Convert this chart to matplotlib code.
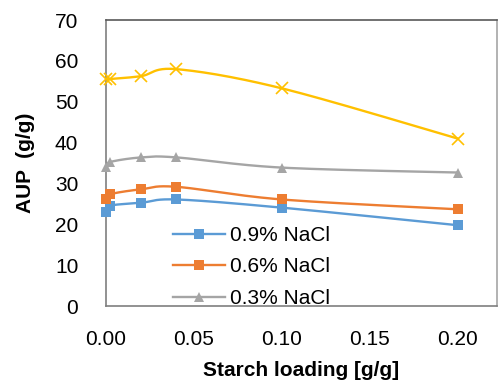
import numpy as np
import matplotlib
matplotlib.use('Agg')
import matplotlib.pyplot as plt

plt.rcParams['font.family'] = ['Liberation Sans', 'DejaVu Sans']

# Starch loading (g/g)
loading = [0.0, 0.0025, 0.02, 0.04, 0.10, 0.20]

aup_09 = [23.1, 24.6, 25.3, 26.1, 24.1, 19.8]
aup_06 = [26.1, 27.4, 28.6, 29.2, 26.1, 23.7]
aup_03 = [34.1, 35.3, 36.4, 36.4, 33.9, 32.7]
aup_water = [55.5, 55.6, 56.3, 58.0, 53.3, 41.0]

SERIES = [
    (aup_09, '0.9% NaCl', '#5B9BD5', 's'),
    (aup_06, '0.6% NaCl', '#ED7D31', 's'),
    (aup_03, '0.3% NaCl', '#A5A5A5', '^'),
    (aup_water, '_nolegend_', '#FFC000', 'x'),
]


def smooth(x, y, n=40):
    """Excel-like smoothed line (Catmull-Rom through the points)."""
    x = np.asarray(x, float)
    y = np.asarray(y, float)
    px = np.concatenate([[x[0]], x, [x[-1]]])
    py = np.concatenate([[y[0]], y, [y[-1]]])
    xs, ys = [], []
    for i in range(1, len(px) - 2):
        p0, p1, p2, p3 = [np.array([px[k], py[k]]) for k in range(i - 1, i + 3)]
        c1 = p1 + (p2 - p0) / 6
        c2 = p2 - (p3 - p1) / 6
        t = np.linspace(0, 1, n)[:, None]
        b = ((1 - t) ** 3) * p1 + 3 * ((1 - t) ** 2) * t * c1 \
            + 3 * (1 - t) * t ** 2 * c2 + t ** 3 * p2
        xs.append(b[:, 0])
        ys.append(b[:, 1])
    return np.concatenate(xs), np.concatenate(ys)


fig = plt.figure(figsize=(4.98, 3.87), dpi=100)
ax = fig.add_axes([0.213, 0.209, 0.784, 0.739])

handles = []
for vals, label, color, marker in SERIES:
    sx, sy = smooth(loading, vals)
    ax.plot(sx, sy, color=color, lw=1.7, zorder=2)
    mew = 1.2 if marker == 'x' else 0
    ms = 8 if marker == 'x' else 7.2
    ax.plot(loading, vals, linestyle='none', marker=marker, color=color,
            ms=ms, mew=mew, zorder=3, clip_on=False)
    h, = ax.plot([], [], color=color, lw=1.7, marker=marker, ms=7.2, mew=0,
                 label=label)
    handles.append(h)

ax.set_xlim(0, 0.222)
ax.set_ylim(0, 70)
ax.set_xticks([0.0, 0.05, 0.10, 0.15, 0.20])
ax.set_xticklabels(['0.00', '0.05', '0.10', '0.15', '0.20'])
ax.set_yticks(range(0, 71, 10))
ax.tick_params(length=0, labelsize=15)
ax.tick_params(axis='y', pad=20)
ax.tick_params(axis='x', pad=17)

ax.spines['left'].set_color('#7f7f7f')
ax.spines['bottom'].set_color('#7f7f7f')
ax.spines['top'].set_color('#595959')
ax.spines['right'].set_color('#a6a6a6')
for s in ax.spines.values():
    s.set_linewidth(1.2)

ax.set_xlabel('Starch loading [g/g]', fontsize=15, fontweight='bold', labelpad=9)
ax.set_ylabel('AUP  (g/g)', fontsize=15, fontweight='bold', labelpad=14)

ax.legend(handles=handles[:3], loc='upper left',
          bbox_to_anchor=(0.15, 0.31), frameon=False, fontsize=15,
          handlelength=2.5, labelspacing=0.6, handletextpad=0.25,
          borderaxespad=0)

fig.savefig('out.png', dpi=100, facecolor='white')
